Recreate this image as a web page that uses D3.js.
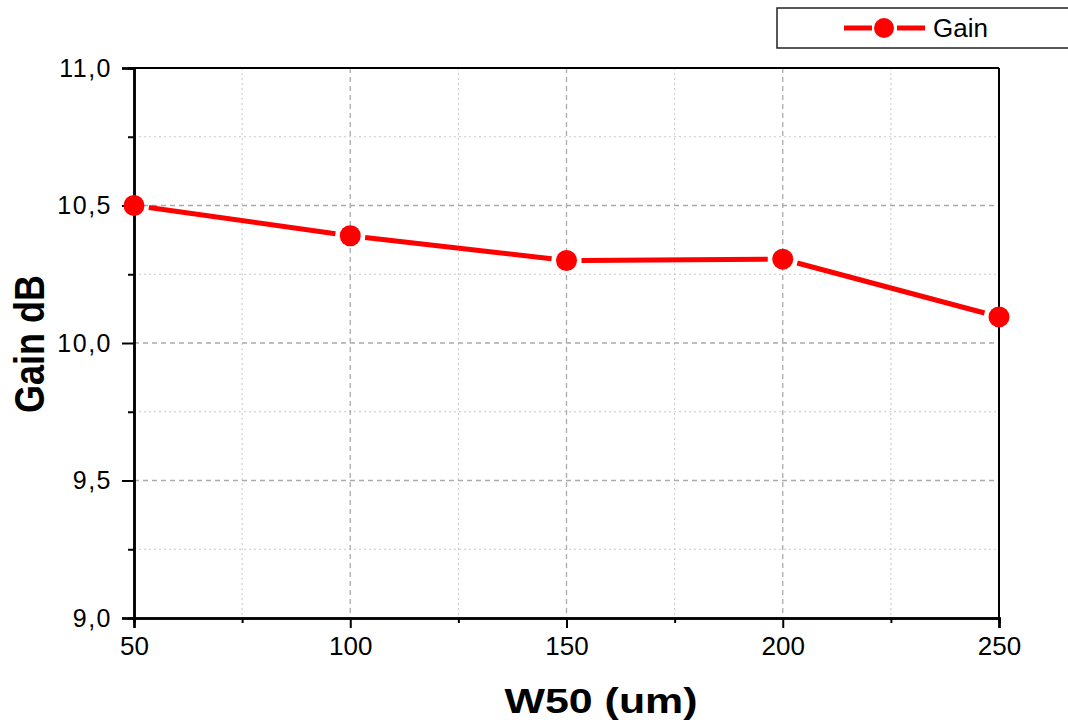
<!DOCTYPE html>
<html>
<head>
<meta charset="utf-8">
<script src="https://cdn.jsdelivr.net/npm/d3@7"></script>
<style>
  body { margin: 0; background: #fff; }
  svg { display: block; font-family: Arial, "Liberation Sans", sans-serif; }
</style>
</head>
<body>
<svg id="chart" width="1068" height="724"></svg>
<script>
// data
var widths = [50, 100, 150, 200, 250];
var gain = [10.50, 10.39, 10.30, 10.305, 10.095];
var xTicks = [50, 100, 150, 200, 250];
var xMinor = [75, 125, 175, 225];
var yTicks = [9.0, 9.5, 10.0, 10.5, 11.0];
var yMinor = [9.25, 9.75, 10.25, 10.75];

function drawChart() {
    var pLeft = 134, pRight = 999, pTop = 68, pBottom = 618;

    var svg = d3.select('#chart');
    var x = d3.scaleLinear().domain([50, 250]).range([pLeft, pRight]);
    var y = d3.scaleLinear().domain([9, 11]).range([pBottom, pTop]);
    var fmt = function (d) { return d3.format('.1f')(d).replace('.', ','); };

    // grid
    var grid = svg.append('g');
    grid.selectAll('.gxm').data(xMinor).enter().append('line')
        .attr('x1', function (d) { return x(d); }).attr('x2', function (d) { return x(d); })
        .attr('y1', pTop).attr('y2', pBottom)
        .attr('stroke', '#c8c8c8').attr('stroke-width', 1).attr('stroke-dasharray', '2,3');
    grid.selectAll('.gym').data(yMinor).enter().append('line')
        .attr('y1', function (d) { return y(d); }).attr('y2', function (d) { return y(d); })
        .attr('x1', pLeft).attr('x2', pRight)
        .attr('stroke', '#c8c8c8').attr('stroke-width', 1).attr('stroke-dasharray', '2,3');
    grid.selectAll('.gx').data(xTicks.slice(1, -1)).enter().append('line')
        .attr('x1', function (d) { return x(d); }).attr('x2', function (d) { return x(d); })
        .attr('y1', pTop).attr('y2', pBottom)
        .attr('stroke', '#aaaaaa').attr('stroke-width', 1.3).attr('stroke-dasharray', '5,4');
    grid.selectAll('.gy').data(yTicks.slice(1, -1)).enter().append('line')
        .attr('y1', function (d) { return y(d); }).attr('y2', function (d) { return y(d); })
        .attr('x1', pLeft).attr('x2', pRight)
        .attr('stroke', '#aaaaaa').attr('stroke-width', 1.3).attr('stroke-dasharray', '5,4');

    // frame (top and right)
    svg.append('line').attr('x1', pLeft).attr('x2', pRight).attr('y1', pTop).attr('y2', pTop)
        .attr('stroke', '#000').attr('stroke-width', 2);
    svg.append('line').attr('x1', pRight).attr('x2', pRight).attr('y1', pTop).attr('y2', pBottom)
        .attr('stroke', '#000').attr('stroke-width', 2);

    // axes
    var xAxis = svg.append('g').attr('transform', 'translate(0,' + pBottom + ')')
        .call(d3.axisBottom(x).tickValues(xTicks).tickSize(10).tickPadding(9).tickFormat(d3.format('d')));
    var xAxisMinor = svg.append('g').attr('transform', 'translate(0,' + pBottom + ')')
        .call(d3.axisBottom(x).tickValues(xMinor).tickSize(5).tickFormat(''));
    var yAxis = svg.append('g').attr('transform', 'translate(' + pLeft + ',0)')
        .call(d3.axisLeft(y).tickValues(yTicks).tickSize(12).tickPadding(10).tickFormat(fmt));
    var yAxisMinor = svg.append('g').attr('transform', 'translate(' + pLeft + ',0)')
        .call(d3.axisLeft(y).tickValues(yMinor).tickSize(6).tickFormat(''));

    [xAxis, xAxisMinor, yAxis, yAxisMinor].forEach(function (a) {
        a.attr('font-family', 'Arial, "Liberation Sans", sans-serif');
        a.select('.domain').attr('stroke', '#000').attr('stroke-width', 2.5);
        a.selectAll('.tick line').attr('stroke', '#000').attr('stroke-width', 2);
        a.selectAll('text').attr('fill', '#000');
    });
    xAxis.attr('font-size', 26);
    yAxis.attr('font-size', 25);
    yAxis.selectAll('text').attr('letter-spacing', 1.5);

    // axis titles
    svg.append('text').attr('x', 601).attr('y', 713).attr('text-anchor', 'middle')
        .attr('font-size', 35).attr('font-weight', 'bold')
        .attr('textLength', 193).attr('lengthAdjust', 'spacingAndGlyphs').text('W50 (um)');
    svg.append('text').attr('transform', 'translate(44,344) rotate(-90)').attr('text-anchor', 'middle')
        .attr('font-size', 42).attr('font-weight', 'bold')
        .attr('textLength', 138).attr('lengthAdjust', 'spacingAndGlyphs').text('Gain dB');

    // series line, segments stop short of the markers
    var plot = svg.append('g');
    var gap = 15;
    var pts = widths.map(function (w, i) { return [x(w), y(gain[i])]; });
    for (var i = 0; i < pts.length - 1; i++) {
        var a = pts[i], b = pts[i + 1];
        var dx = b[0] - a[0], dy = b[1] - a[1], len = Math.sqrt(dx * dx + dy * dy);
        var ux = dx / len, uy = dy / len;
        plot.append('line')
            .attr('x1', a[0] + ux * gap).attr('y1', a[1] + uy * gap)
            .attr('x2', b[0] - ux * gap).attr('y2', b[1] - uy * gap)
            .attr('stroke', '#ff0000').attr('stroke-width', 5);
    }
    plot.selectAll('circle').data(widths).enter().append('circle')
        .attr('cx', function (d) { return x(d); })
        .attr('cy', function (d, i) { return y(gain[i]); })
        .attr('r', 10.5).attr('fill', '#ff0000');

    // legend
    var lg = svg.append('g');
    lg.append('rect').attr('x', 777).attr('y', 8).attr('width', 300).attr('height', 40)
        .attr('fill', '#fff').attr('stroke', '#222').attr('stroke-width', 1.5);
    lg.append('line').attr('x1', 844).attr('x2', 872).attr('y1', 28).attr('y2', 28)
        .attr('stroke', '#ff0000').attr('stroke-width', 5);
    lg.append('line').attr('x1', 897).attr('x2', 925).attr('y1', 28).attr('y2', 28)
        .attr('stroke', '#ff0000').attr('stroke-width', 5);
    lg.append('circle').attr('cx', 884).attr('cy', 28).attr('r', 10).attr('fill', '#ff0000');
    lg.append('text').attr('x', 933).attr('y', 37).attr('font-size', 26).text('Gain');
}

drawChart();
</script>
</body>
</html>
